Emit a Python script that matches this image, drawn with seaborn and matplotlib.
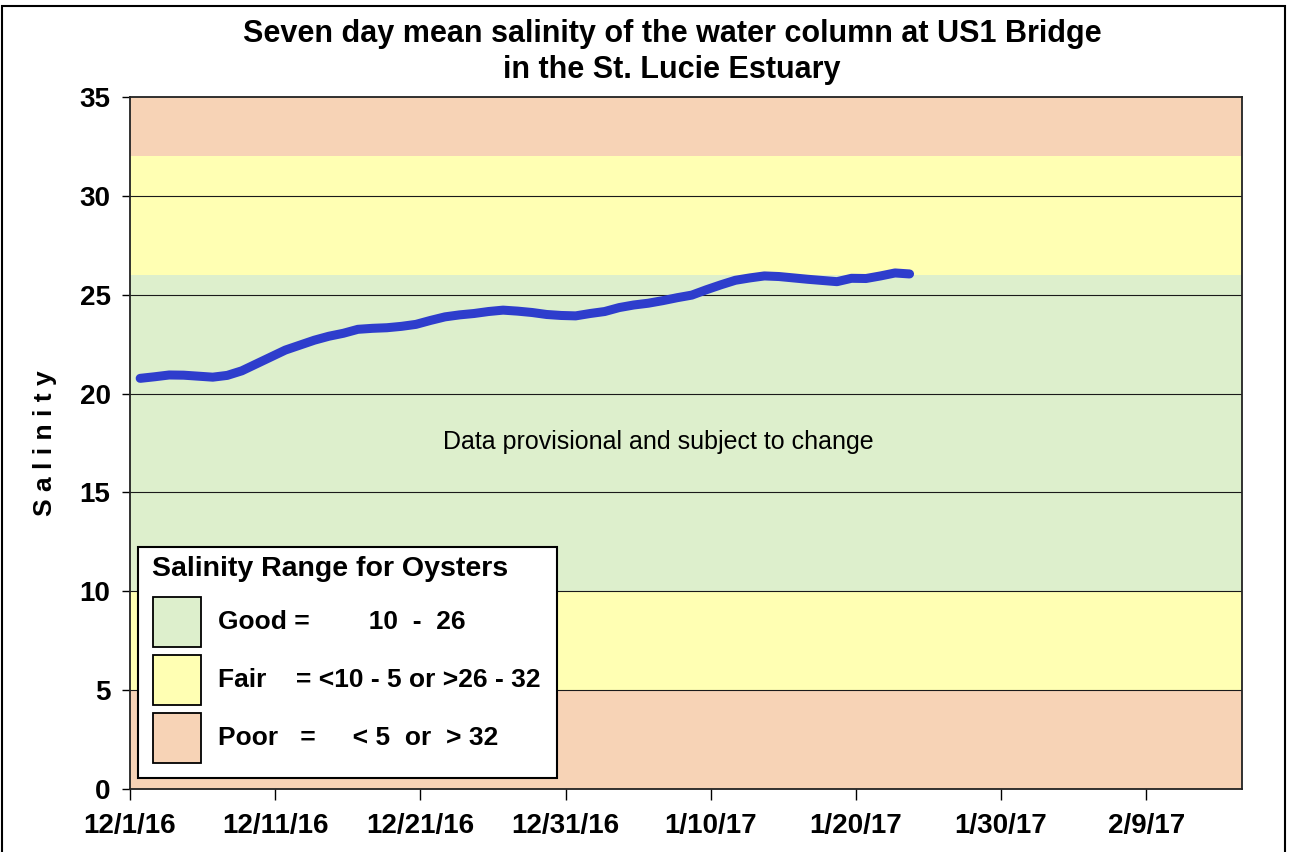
import matplotlib
matplotlib.use('Agg')
import matplotlib.pyplot as plt
import seaborn as sns
import pandas as pd
from matplotlib.patches import Rectangle

# days after 12/1/16 and seven day mean salinity
days = list(range(1, 55))
salinity = [20.77, 20.85, 20.94, 20.93, 20.88, 20.83, 20.92, 21.15, 21.5, 21.85,
            22.2, 22.45, 22.7, 22.9, 23.05, 23.25, 23.3, 23.33, 23.4, 23.5,
            23.7, 23.88, 23.98, 24.05, 24.15, 24.22, 24.17, 24.1, 24.0, 23.95,
            23.93, 24.05, 24.15, 24.35, 24.48, 24.57, 24.7, 24.85, 24.98, 25.25,
            25.5, 25.73, 25.85, 25.95, 25.92, 25.85, 25.78, 25.72, 25.66, 25.83,
            25.82, 25.95, 26.1, 26.05]

tick_days = [0, 10, 20, 30, 40, 50, 60, 70]
tick_labels = ['12/1/16', '12/11/16', '12/21/16', '12/31/16', '1/10/17', '1/20/17', '1/30/17', '2/9/17']

# salinity bands (low, high, colour)
bands = [(0, 5, '#F7D3B6'), (5, 10, '#FFFFB3'), (10, 26, '#DDEFCC'),
         (26, 32, '#FFFFB3'), (32, 35, '#F7D3B6')]
legend_rows = [('#DDEFCC', 'Good =        10  -  26'),
               ('#FFFFB3', 'Fair    = <10 - 5 or >26 - 32'),
               ('#F7D3B6', 'Poor   =     < 5  or  > 32')]

sns.set_style('ticks')
plt.rcParams['font.family'] = ['Liberation Sans', 'DejaVu Sans']
plt.rcParams['text.color'] = 'black'
plt.rcParams['axes.labelcolor'] = 'black'
plt.rcParams['xtick.color'] = 'black'
plt.rcParams['ytick.color'] = 'black'

fig = plt.figure(figsize=(12.94, 8.52), dpi=100)
ax = fig.add_axes([130 / 1294, 1 - 789 / 852, 1112 / 1294, 692 / 852])

for lo, hi, c in bands:
    ax.axhspan(lo, hi, color=c, zorder=0, lw=0)
for y in range(5, 35, 5):
    ax.axhline(y, color='#1a1a1a', lw=0.8, zorder=1)

df = pd.DataFrame({'day': [d - 0.3 for d in days], 'salinity': salinity})
sns.lineplot(data=df, x='day', y='salinity', ax=ax, color='#2E3DCC', lw=6.5,
             solid_capstyle='round', solid_joinstyle='round', zorder=3)

ax.set_xlim(0, 76.6)
ax.set_ylim(0, 35)
ax.set_xticks(tick_days)
ax.set_xticklabels(tick_labels, fontsize=20, fontweight='bold')
ax.set_yticks(range(0, 36, 5))
ax.set_yticklabels([str(v) for v in range(0, 36, 5)], fontsize=20, fontweight='bold')
ax.tick_params(axis='x', length=8, width=1, pad=9)
ax.tick_params(axis='y', length=6, width=1, pad=8)
ax.set_xlabel('')
ax.set_ylabel('S a l i n i t y', fontsize=19, fontweight='bold', labelpad=16)
for s in ax.spines.values():
    s.set_color('#222222')
    s.set_linewidth(1.3)

ax.text(0.475, 0.502, 'Data provisional and subject to change', transform=ax.transAxes,
        ha='center', va='center', fontsize=18)

fig.text(672 / 1294, 1 - 52 / 852, 'Seven day mean salinity of the water column at US1 Bridge\nin the St. Lucie Estuary',
         ha='center', va='center', fontsize=22, fontweight='bold', linespacing=1.3)

# custom legend box in pixel coordinates
def px(x, y):
    return (x / 1294, 1 - y / 852)

fig.patches.append(Rectangle(px(138, 778), 419 / 1294, 231 / 852, transform=fig.transFigure,
                             facecolor='white', edgecolor='black', lw=1.5, zorder=5))
fig.text(*px(152, 569), 'Salinity Range for Oysters', fontsize=20.5, fontweight='bold',
         va='center', ha='left', zorder=6)
for i, (c, lab) in enumerate(legend_rows):
    top = 597 + i * 58
    fig.patches.append(Rectangle(px(153, top + 50), 48 / 1294, 50 / 852, transform=fig.transFigure,
                                 facecolor=c, edgecolor='black', lw=1.3, zorder=6))
    fig.text(*px(218, top + 25), lab, fontsize=19, fontweight='bold', va='center', ha='left', zorder=6)

# outer frame
fig.patches.append(Rectangle((2 / 1294, -0.05), 1283 / 1294, 1.05 - 6 / 852, transform=fig.transFigure,
                             facecolor='none', edgecolor='black', lw=1.5, zorder=10))

fig.savefig('out.png', dpi=100)
